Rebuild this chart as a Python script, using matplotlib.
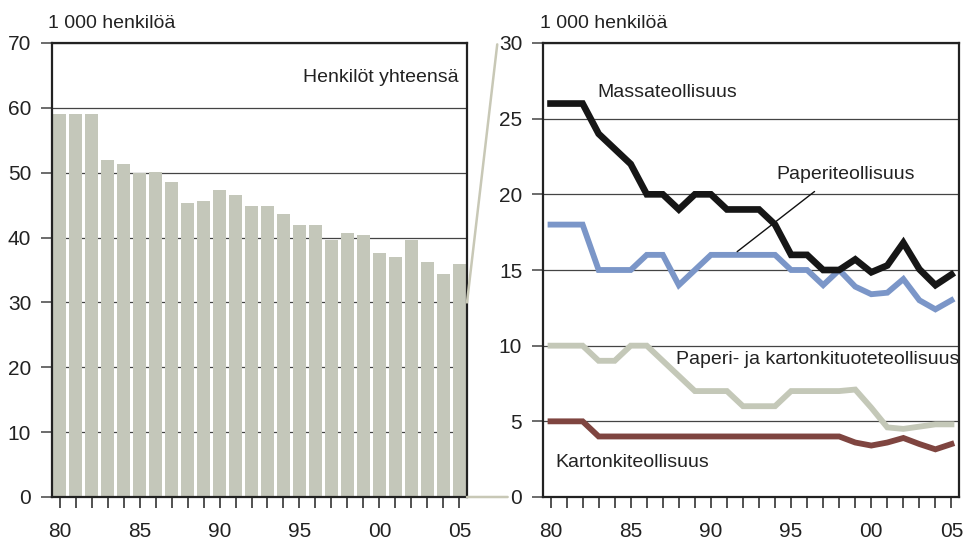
import matplotlib
matplotlib.use("Agg")
import matplotlib.pyplot as plt
from matplotlib.patches import ConnectionPatch
from matplotlib.ticker import MultipleLocator

plt.rcParams['font.family'] = ['Liberation Sans', 'DejaVu Sans']

years = list(range(1980, 2006))

total = [59.0, 59.0, 59.0, 52.0, 51.3, 50.0, 50.1, 48.5, 45.3, 45.7,
         47.3, 46.5, 44.8, 44.8, 43.6, 42.0, 42.0, 39.6, 40.7, 40.4,
         37.6, 37.0, 39.6, 36.2, 34.4, 35.9]

massa = [26, 26, 26, 24, 23, 22, 20, 20, 19, 20,
         20, 19, 19, 19, 18, 16, 16, 15, 15, 15.7,
         14.85, 15.3, 16.8, 15.05, 14.0, 14.7]
paperi = [18, 18, 18, 15, 15, 15, 16, 16, 14, 15,
          16, 16, 16, 16, 16, 15, 15, 14, 15, 13.9,
          13.4, 13.5, 14.4, 13.0, 12.4, 13.0]
tuote = [10, 10, 10, 9, 9, 10, 10, 9, 8, 7,
         7, 7, 6, 6, 6, 7, 7, 7, 7, 7.1,
         5.9, 4.6, 4.5, 4.65, 4.8, 4.8]
kartonki = [5, 5, 5, 4, 4, 4, 4, 4, 4, 4,
            4, 4, 4, 4, 4, 4, 4, 4, 4, 3.6,
            3.4, 3.6, 3.9, 3.5, 3.15, 3.5]

idx = list(range(len(years)))

fig = plt.figure(figsize=(9.67, 5.43), dpi=100)
axL = fig.add_axes([52/967, 46/543, 415/967, 454/543])
axR = fig.add_axes([543/967, 46/543, 416/967, 454/543])

spine_col = '#222222'
grid_col = '#444444'
FS = 14
TFS = 15

def style(ax, ymax, ystep):
    ax.set_xlim(-0.47, len(years) - 0.53)
    ax.set_ylim(0, ymax)
    ax.yaxis.set_major_locator(MultipleLocator(ystep))
    for s in ax.spines.values():
        s.set_color(spine_col)
        s.set_linewidth(1.6)
    ax.set_xticks(idx)
    ax.set_xticklabels([str(y)[2:] if y % 5 == 0 else '' for y in years])
    ax.tick_params(axis='x', direction='out', length=8, width=1.1, color=spine_col,
                   labelsize=TFS, pad=10, labelcolor='#222222')
    ax.tick_params(axis='y', direction='out', length=8, width=1.1, color=grid_col,
                   labelsize=TFS, pad=7, labelcolor='#222222')
    ax.grid(axis='y', color=grid_col, linewidth=0.9)
    ax.set_axisbelow(True)
    ax.set_facecolor('white')

style(axL, 70, 10)
style(axR, 30, 5)

axL.bar(idx, total, width=0.77, color='#c4c7ba', zorder=2)
axL.text(0.98, 0.925, 'Henkilöt yhteensä', transform=axL.transAxes, ha='right', va='center',
         fontsize=FS, color='#222222')
axL.text(-0.01, 1.025, '1 000 henkilöä', transform=axL.transAxes, ha='left', va='bottom',
         fontsize=FS, color='#222222')
axR.text(-0.008, 1.025, '1 000 henkilöä', transform=axR.transAxes, ha='left', va='bottom',
         fontsize=FS, color='#222222')

axR.plot(idx, tuote, color='#c4c8b8', lw=4.2, solid_joinstyle='miter', zorder=3)
axR.plot(idx, kartonki, color='#7f4540', lw=4.2, solid_joinstyle='miter', zorder=3)
axR.plot(idx, paperi, color='#7b96c8', lw=4.2, solid_joinstyle='miter', zorder=3)
axR.plot(idx, massa, color='#161616', lw=4.8, solid_joinstyle='miter', zorder=4)

axR.text(2.9, 26.7, 'Massateollisuus', fontsize=FS, ha='left', va='center', color='#222222')
axR.text(14.1, 21.3, 'Paperiteollisuus', fontsize=FS, ha='left', va='center', color='#222222')
axR.annotate('', xy=(11.5, 16.1), xytext=(16.6, 20.3),
             arrowprops=dict(arrowstyle='-', color='#111111', lw=1.0))
axR.text(7.8, 9.1, 'Paperi- ja kartonkituoteteollisuus', fontsize=FS, ha='left', va='center',
         color='#222222')
axR.text(0.3, 2.3, 'Kartonkiteollisuus', fontsize=FS, ha='left', va='center', color='#222222')

conn_col = '#c8c8b6'
c1 = ConnectionPatch(xyA=(1.0, 30), coordsA=axL.get_yaxis_transform(),
                     xyB=(-0.11, 0.997), coordsB=axR.transAxes,
                     color=conn_col, lw=1.8)
fig.add_artist(c1)
c2 = ConnectionPatch(xyA=(1.0, 0), coordsA=axL.get_yaxis_transform(),
                     xyB=(-0.085, 0.0), coordsB=axR.transAxes,
                     color=conn_col, lw=1.8)
fig.add_artist(c2)

fig.savefig('out.png', dpi=100, facecolor='white')
